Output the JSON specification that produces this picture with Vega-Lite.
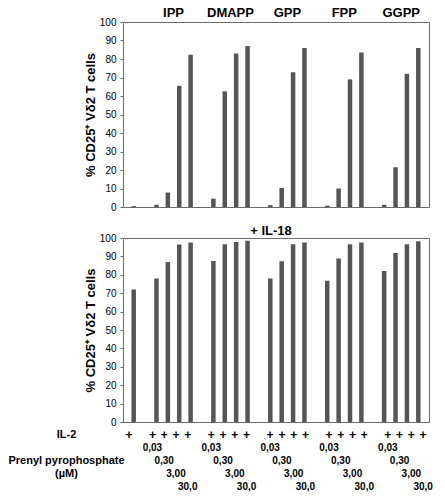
{
  "$schema": "https://vega.github.io/schema/vega-lite/v6.json",
  "padding": {"left": 7, "top": 6, "right": 5, "bottom": 5},
  "background": "white",
  "spacing": 11,
  "config": {
    "font": "Liberation Sans",
    "view": {"stroke": "#6b6b6b", "strokeWidth": 1},
    "axis": {"grid": false, "labelFont": "Liberation Sans", "titleFont": "Liberation Sans", "labelColor": "#000", "titleColor": "#000"}
  },
  "datasets": {
    "bars": [
      {"panel": "top", "slot": 0, "value": 0.5},
      {"panel": "top", "slot": 2, "value": 1.2},
      {"panel": "top", "slot": 3, "value": 7.8},
      {"panel": "top", "slot": 4, "value": 65.5},
      {"panel": "top", "slot": 5, "value": 82.3},
      {"panel": "top", "slot": 7, "value": 4.5},
      {"panel": "top", "slot": 8, "value": 62.5},
      {"panel": "top", "slot": 9, "value": 83},
      {"panel": "top", "slot": 10, "value": 87},
      {"panel": "top", "slot": 12, "value": 1.0},
      {"panel": "top", "slot": 13, "value": 10.3},
      {"panel": "top", "slot": 14, "value": 72.8},
      {"panel": "top", "slot": 15, "value": 86},
      {"panel": "top", "slot": 17, "value": 0.7},
      {"panel": "top", "slot": 18, "value": 10},
      {"panel": "top", "slot": 19, "value": 69},
      {"panel": "top", "slot": 20, "value": 83.5},
      {"panel": "top", "slot": 22, "value": 1.2},
      {"panel": "top", "slot": 23, "value": 21.5},
      {"panel": "top", "slot": 24, "value": 72},
      {"panel": "top", "slot": 25, "value": 86},
      {"panel": "bottom", "slot": 0, "value": 72},
      {"panel": "bottom", "slot": 2, "value": 78},
      {"panel": "bottom", "slot": 3, "value": 87},
      {"panel": "bottom", "slot": 4, "value": 96.4},
      {"panel": "bottom", "slot": 5, "value": 97.5},
      {"panel": "bottom", "slot": 7, "value": 87.5},
      {"panel": "bottom", "slot": 8, "value": 96.6},
      {"panel": "bottom", "slot": 9, "value": 97.8},
      {"panel": "bottom", "slot": 10, "value": 98.5},
      {"panel": "bottom", "slot": 12, "value": 78},
      {"panel": "bottom", "slot": 13, "value": 87.4},
      {"panel": "bottom", "slot": 14, "value": 96.6},
      {"panel": "bottom", "slot": 15, "value": 97.5},
      {"panel": "bottom", "slot": 17, "value": 76.8},
      {"panel": "bottom", "slot": 18, "value": 88.8},
      {"panel": "bottom", "slot": 19, "value": 96.6},
      {"panel": "bottom", "slot": 20, "value": 97.5},
      {"panel": "bottom", "slot": 22, "value": 82},
      {"panel": "bottom", "slot": 23, "value": 91.9},
      {"panel": "bottom", "slot": 24, "value": 96.6},
      {"panel": "bottom", "slot": 25, "value": 98.2}
    ],
    "groups": [
      {"group": "IPP", "center": 3.5},
      {"group": "DMAPP", "center": 8.5},
      {"group": "GPP", "center": 13.5},
      {"group": "FPP", "center": 18.5},
      {"group": "GGPP", "center": 23.5}
    ],
    "table": [
      {"row": "IL-2", "slot": 0, "label": "+"},
      {"row": "IL-2", "slot": 2, "label": "+"},
      {"row": "IL-2", "slot": 3, "label": "+"},
      {"row": "IL-2", "slot": 4, "label": "+"},
      {"row": "IL-2", "slot": 5, "label": "+"},
      {"row": "IL-2", "slot": 7, "label": "+"},
      {"row": "IL-2", "slot": 8, "label": "+"},
      {"row": "IL-2", "slot": 9, "label": "+"},
      {"row": "IL-2", "slot": 10, "label": "+"},
      {"row": "IL-2", "slot": 12, "label": "+"},
      {"row": "IL-2", "slot": 13, "label": "+"},
      {"row": "IL-2", "slot": 14, "label": "+"},
      {"row": "IL-2", "slot": 15, "label": "+"},
      {"row": "IL-2", "slot": 17, "label": "+"},
      {"row": "IL-2", "slot": 18, "label": "+"},
      {"row": "IL-2", "slot": 19, "label": "+"},
      {"row": "IL-2", "slot": 20, "label": "+"},
      {"row": "IL-2", "slot": 22, "label": "+"},
      {"row": "IL-2", "slot": 23, "label": "+"},
      {"row": "IL-2", "slot": 24, "label": "+"},
      {"row": "IL-2", "slot": 25, "label": "+"},
      {"row": "c1", "slot": 2, "label": "0,03"},
      {"row": "c1", "slot": 7, "label": "0,03"},
      {"row": "c1", "slot": 12, "label": "0,03"},
      {"row": "c1", "slot": 17, "label": "0,03"},
      {"row": "c1", "slot": 22, "label": "0,03"},
      {"row": "Prenyl pyrophosphate", "slot": 3, "label": "0,30"},
      {"row": "Prenyl pyrophosphate", "slot": 8, "label": "0,30"},
      {"row": "Prenyl pyrophosphate", "slot": 13, "label": "0,30"},
      {"row": "Prenyl pyrophosphate", "slot": 18, "label": "0,30"},
      {"row": "Prenyl pyrophosphate", "slot": 23, "label": "0,30"},
      {"row": "(µM)", "slot": 4, "label": "3,00"},
      {"row": "(µM)", "slot": 9, "label": "3,00"},
      {"row": "(µM)", "slot": 14, "label": "3,00"},
      {"row": "(µM)", "slot": 19, "label": "3,00"},
      {"row": "(µM)", "slot": 24, "label": "3,00"},
      {"row": "c4", "slot": 5, "label": "30,0"},
      {"row": "c4", "slot": 10, "label": "30,0"},
      {"row": "c4", "slot": 15, "label": "30,0"},
      {"row": "c4", "slot": 20, "label": "30,0"},
      {"row": "c4", "slot": 25, "label": "30,0"}
    ]
  },
  "vconcat": [
    {
      "width": 306,
      "height": 185,
      "encoding": {
        "y": {"type": "quantitative", "scale": {"domain": [0, 100], "nice": false},
          "axis": {"values": [0, 10, 20, 30, 40, 50, 60, 70, 80, 90, 100], "domain": false, "tickSize": 3, "tickColor": "#6b6b6b", "labelFontSize": 10, "labelPadding": 4,
            "title": "% CD25⁺ Vδ2 T cells", "titleFontSize": 13, "titleFontWeight": "bold", "titlePadding": 2}}
      },
      "layer": [
        {
          "data": {"name": "bars"},
          "transform": [{"filter": "datum.panel == 'top'"}],
          "mark": {"type": "bar", "size": 4.5, "color": "#555555"},
          "encoding": {
            "x": {"field": "slot", "type": "quantitative", "scale": {"domain": [-0.5, 25.5], "nice": false, "zero": false}, "axis": null},
            "y": {"field": "value", "type": "quantitative"}
          }
        },
        {
          "data": {"name": "groups"},
          "mark": {"type": "text", "fontWeight": "bold", "fontSize": 13, "baseline": "middle", "font": "Liberation Sans"},
          "encoding": {
            "x": {"field": "center", "type": "quantitative"},
            "y": {"datum": 105, "type": "quantitative"},
            "text": {"field": "group"}
          }
        }
      ]
    },
    {
      "spacing": 0,
      "vconcat": [
        {
          "width": 306,
          "height": 184,
          "title": {"text": "+ IL-18", "fontSize": 13, "fontWeight": "bold", "offset": -5, "anchor": "middle", "dx": -5, "font": "Liberation Sans"},
          "data": {"name": "bars"},
          "transform": [{"filter": "datum.panel == 'bottom'"}],
          "mark": {"type": "bar", "size": 4.5, "color": "#555555"},
          "encoding": {
            "x": {"field": "slot", "type": "quantitative", "scale": {"domain": [-0.5, 25.5], "nice": false, "zero": false}, "axis": null},
            "y": {"field": "value", "type": "quantitative", "scale": {"domain": [0, 100], "nice": false},
              "axis": {"values": [0, 10, 20, 30, 40, 50, 60, 70, 80, 90, 100], "domain": false, "tickSize": 3, "tickColor": "#6b6b6b", "labelFontSize": 10, "labelPadding": 4,
                "title": "% CD25⁺ Vδ2 T cells", "titleFontSize": 13, "titleFontWeight": "bold", "titlePadding": 2}}
          }
        },
        {
          "width": 306,
          "height": 65,
          "view": {"stroke": null},
          "data": {"name": "table"},
          "mark": {"type": "text", "fontWeight": "bold", "fontSize": 10, "font": "Liberation Sans", "baseline": "middle"},
          "encoding": {
            "x": {"field": "slot", "type": "quantitative", "scale": {"domain": [-0.5, 25.5], "nice": false, "zero": false}, "axis": null},
            "y": {"field": "row", "type": "ordinal", "scale": {"type": "point", "padding": 0.5, "domain": ["IL-2", "c1", "Prenyl pyrophosphate", "(µM)", "c4"]},
              "axis": {"title": null, "ticks": false, "domain": false, "labelAlign": "center", "labelPadding": 57, "labelFontWeight": "bold", "labelFontSize": 11, "labelLimit": 0,
                "labelExpr": "datum.value == 'c1' || datum.value == 'c4' ? '' : datum.value"}},
            "text": {"field": "label"},
            "size": {"condition": {"test": "datum.label == '+'", "value": 12}, "value": 10}
          }
        }
      ]
    }
  ]
}
